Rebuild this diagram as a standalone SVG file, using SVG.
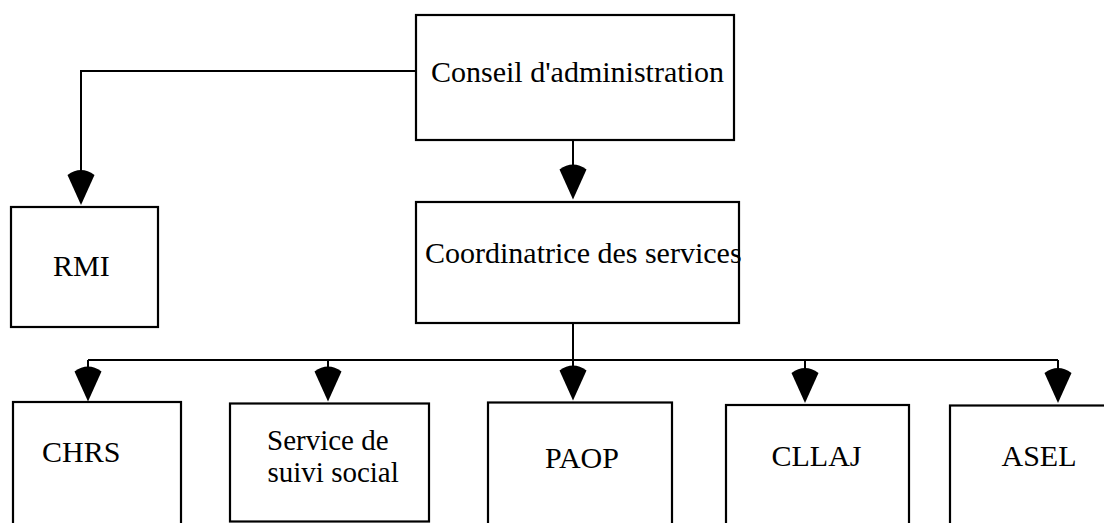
<svg xmlns="http://www.w3.org/2000/svg" xmlns:xlink="http://www.w3.org/1999/xlink" width="1104" height="523" viewBox="0 0 1104 523">
<style>
.box{fill:#fff;stroke:#000;stroke-width:2.2}
.ln{fill:none;stroke:#000;stroke-width:2}
text{font-family:'Liberation Serif','Times New Roman','DejaVu Serif',serif;fill:#000}
.t{font-size:30px}
.t2{font-size:29px}
</style>
<defs>
<path id="ah" d="M -13.5 -30 Q 0 -40 13.5 -30 L 0 0 Z" fill="#000"/>
</defs>
<g id="connectors">
<path class="ln" d="M416 71 H81 V200"/>
<use xlink:href="#ah" x="81" y="205"/>
<path class="ln" d="M573 140 V194"/>
<use xlink:href="#ah" x="573" y="199.5"/>
<path class="ln" d="M573 323 V395"/>
<path class="ln" d="M88 360 H1058"/>
<path class="ln" d="M88 360 V395 M328 360 V395 M805 360 V395 M1058 360 V395"/>
<use xlink:href="#ah" x="88" y="401.5"/>
<use xlink:href="#ah" x="328" y="401.5"/>
<use xlink:href="#ah" x="573" y="400.5"/>
<use xlink:href="#ah" x="805" y="403"/>
<use xlink:href="#ah" x="1058" y="403"/>
</g>
<g id="conseil">
<rect class="box" x="416" y="15" width="318" height="125"/>
<text class="t" x="431" y="82" font-family="Liberation Serif, serif">Conseil d'administration</text>
</g>
<g id="rmi">
<rect class="box" x="11" y="207" width="147" height="120"/>
<text class="t" x="53" y="276" font-family="Liberation Serif, serif">RMI</text>
</g>
<g id="coordinatrice">
<rect class="box" x="416" y="202" width="323" height="121"/>
<text class="t" x="425" y="263" font-family="Liberation Serif, serif">Coordinatrice des services</text>
</g>
<g id="chrs">
<rect class="box" x="13" y="402" width="168" height="130"/>
<text class="t" x="42" y="462" font-family="Liberation Serif, serif">CHRS</text>
</g>
<g id="service">
<rect class="box" x="230" y="403.5" width="199" height="118"/>
<text class="t2" x="267" y="450" font-family="Liberation Serif, serif">Service de</text>
<text class="t2" x="267.5" y="481.5" font-family="Liberation Serif, serif">suivi social</text>
</g>
<g id="paop">
<rect class="box" x="488" y="402.5" width="184" height="130"/>
<text class="t" x="545" y="468" font-family="Liberation Serif, serif">PAOP</text>
</g>
<g id="cllaj">
<rect class="box" x="726" y="405" width="183" height="130"/>
<text class="t" x="771.5" y="466" font-family="Liberation Serif, serif">CLLAJ</text>
</g>
<g id="asel">
<rect class="box" x="950" y="405.5" width="170" height="130"/>
<text class="t" x="1001.5" y="466" font-family="Liberation Serif, serif">ASEL</text>
</g>
</svg>
